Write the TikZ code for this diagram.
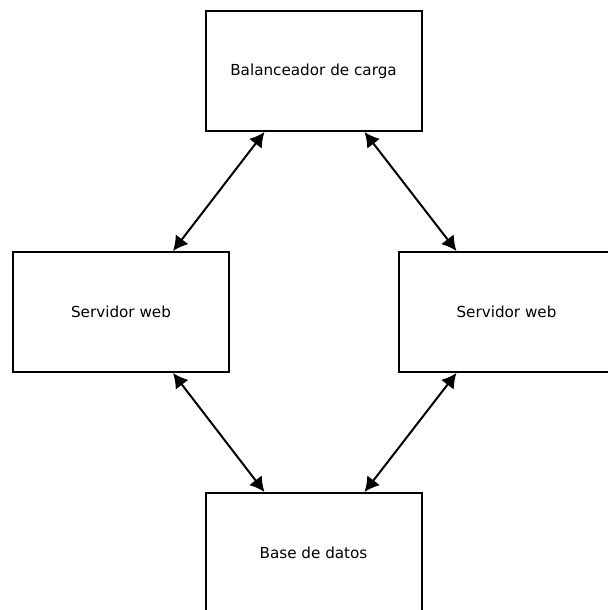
\documentclass[tikz,border=0pt]{standalone}
\usepackage{fontspec}
\setmainfont{DejaVu Sans}
\usetikzlibrary{arrows.meta}

\begin{document}
\begin{tikzpicture}[x=0.75pt,y=-0.75pt,
box/.style={
	rectangle,minimum width=162pt,minimum height=90pt,inner sep=0pt,
	draw=black,line width=1.5pt,
	font=\fontsize{11.4}{14}\selectfont},
link/.style={{Latex[length=11pt,width=12pt]}-{Latex[length=11pt,width=12pt]},line width=1.5pt}
]
\useasboundingbox (0,0) rectangle (607,610);
% nodes
\node[box] (lb) at (313.5,71) {Balanceador de carga};
\node[box] (ws1) at (121,312) {Servidor web};
\node[box] (ws2) at (506.5,312) {Servidor web};
\node[box] (db) at (313.5,553) {Base de datos};
% links
\draw[link] ([xshift=45pt]lb.south west) -- ([xshift=-42.75pt]ws1.north east);
\draw[link] ([xshift=-43.5pt]lb.south east) -- ([xshift=44.25pt]ws2.north west);
\draw[link] ([xshift=-42.75pt]ws1.south east) -- ([xshift=45pt]db.north west);
\draw[link] ([xshift=44.25pt]ws2.south west) -- ([xshift=-43.5pt]db.north east);
\end{tikzpicture}
\end{document}
